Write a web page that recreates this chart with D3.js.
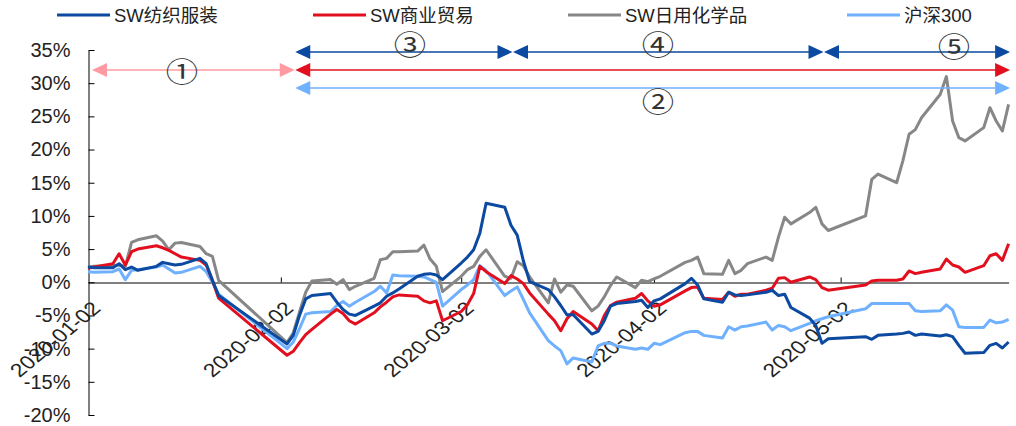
<!DOCTYPE html>
<html>
<head>
<meta charset="utf-8">
<script src="https://cdn.jsdelivr.net/npm/d3@7"></script>
<style>
body { margin: 0; background: #fff; }
svg text { font-family: "Liberation Sans", Arial, "Noto Sans CJK SC", sans-serif; fill: #222; }
</style>
</head>
<body>
<div id="chart"></div>
<script>
// trading days 2020 (MM-DD)
const days = [
  "01-02","01-03","01-06","01-07","01-08","01-09","01-10","01-13","01-14","01-15","01-16","01-17","01-20","01-21","01-22","01-23",
  "02-03","02-04","02-05","02-06","02-07","02-10","02-11","02-12","02-13","02-14","02-17","02-18","02-19","02-20","02-21","02-24","02-25","02-26","02-27","02-28",
  "03-02","03-03","03-04","03-05","03-06","03-09","03-10","03-11","03-12","03-13","03-16","03-17","03-18","03-19","03-20","03-23","03-24","03-25","03-26","03-27","03-30","03-31",
  "04-01","04-02","04-03","04-07","04-08","04-09","04-10","04-13","04-14","04-15","04-16","04-17","04-20","04-21","04-22","04-23","04-24","04-27","04-28","04-29","04-30",
  "05-06","05-07","05-08","05-11","05-12","05-13","05-14","05-15","05-18","05-19","05-20","05-21","05-22","05-25","05-26","05-27","05-28","05-29"
]

// cumulative return, %
const textile = [
  2.3, 2.2, 2.2, 2.8, 1.9, 2.3, 1.8, 2.4, 3.0, 2.8, 2.6, 2.7, 3.6, 2.8, 0.3, -2.0,
  -9.3, -8.0, -5.0, -2.5, -2.0, -1.7, -3.0, -4.1, -4.8, -5.0, -3.6, -3.1, -2.1, -1.6, -1.0, 0.9, 1.2, 1.3, 1.1, 0.4,
  2.9, 3.8, 4.9, 7.4, 11.9, 11.3, 8.6, 7.1, 3.2, 0.1, -1.1, -2.2, -3.5, -4.9, -4.9, -7.8, -7.4, -5.8, -3.6, -3.2, -2.9, -2.7,
  -3.8, -2.8, -2.5, -0.2, 0.6, -0.4, -2.5, -3.0, -1.5, -1.9, -2.0, -1.9, -1.5, -1.2, -2.0, -1.8, -3.8, -5.4, -6.5, -9.2, -8.5,
  -8.2, -8.6, -8.0, -7.8, -7.7, -7.5, -8.0, -7.8, -8.1, -7.9, -8.2, -9.5, -10.7, -10.6, -9.5, -9.2, -9.9, -9.0
]
const commerce = [
  2.1, 2.3, 2.8, 4.3, 2.6, 4.6, 5.0, 5.5, 5.2, 4.8, 4.3, 3.8, 3.3, 2.6, 0.3, -2.4,
  -11.0, -10.4, -9.1, -7.9, -7.1, -4.8, -4.1, -4.7, -5.8, -6.3, -4.6, -3.7, -3.0, -2.2, -1.9, -2.1, -2.8, -3.1, -2.8, -5.8,
  -4.4, -3.4, -1.7, 2.4, 1.6, -0.2, 1.0, 0.5, -0.2, -1.6, -4.8, -5.8, -7.3, -5.5, -4.4, -6.3, -7.3, -5.0, -3.5, -3.0, -2.4, -1.7,
  -2.8, -3.6, -3.4, -1.3, -0.8, -0.7, -2.4, -2.6, -1.5, -2.1, -1.8, -1.8, -1.2, -0.9, 0.6, 0.7, 0.0, 0.8, 0.4, -0.8, -1.2,
  -0.4, 0.2, 0.3, 0.3, 0.5, 1.7, 1.3, 1.5, 2.0, 3.5, 2.6, 2.3, 1.5, 2.5, 4.0, 4.3, 3.3, 5.8
]
const chemicals = [
  2.3, 2.4, 2.5, 2.6, 2.4, 6.0, 6.4, 7.0, 6.2, 4.9, 5.9, 6.0, 5.4, 4.3, 3.9, 0.3,
  -9.1, -7.6, -4.5, -1.5, 0.2, 0.4, -0.3, 0.4, -1.1, -0.6, 0.6, 3.4, 3.6, 4.6, 4.6, 4.7, 5.6, 3.5, 2.4, -1.4,
  0.9, 1.9, 2.4, 3.9, 4.9, 0.9, 0.6, 3.1, 2.5, 0.8, -3.1, 0.5, -1.5, -0.4, -0.6, -4.3, -3.6, -2.2, -0.5, 0.8, -0.8, 0.3,
  0.1, 0.5, 0.9, 3.0, 3.3, 3.8, 1.3, 1.2, 3.3, 1.3, 1.8, 2.8, 3.8, 3.3, 6.8, 9.8, 8.8, 10.5, 11.3, 8.8, 7.8,
  10.0, 15.5, 16.3, 15.0, 18.3, 22.3, 23.0, 24.8, 28.3, 31.0, 24.3, 21.8, 21.3, 23.3, 26.3, 24.3, 22.8, 26.8
]
const hs300 = [
  1.6, 1.5, 1.6, 2.0, 0.4, 1.8, 1.9, 2.3, 2.6, 2.0, 1.4, 1.5, 2.4, 1.6, 0.0, -1.8,
  -10.0, -9.0, -7.0, -4.8, -4.6, -4.4, -3.5, -2.9, -3.6, -3.0, -1.4, -0.6, -1.6, 1.1, 1.0, 0.9, 0.8, 0.4, 0.0, -3.6,
  -1.1, -0.4, 0.4, 2.5, 1.8, -2.0, -1.3, -0.7, -2.6, -4.6, -8.8, -9.6, -10.3, -12.3, -11.4, -12.0, -9.6, -9.2, -9.2, -9.6, -10.1, -9.9,
  -10.1, -9.2, -9.4, -7.6, -7.4, -7.4, -8.0, -8.4, -6.7, -7.2, -6.7, -6.6, -6.0, -7.2, -6.5, -6.7, -7.3, -6.2, -5.8, -5.5, -5.2,
  -4.0, -3.2, -3.2, -3.2, -3.2, -3.2, -4.3, -4.4, -4.3, -3.4, -4.2, -6.7, -6.8, -6.8, -5.7, -6.1, -6.0, -5.6
]

const seriesNames = ["SW纺织服装", "SW商业贸易", "SW日用化学品", "沪深300"]
const seriesColors = ["#0b4aa0", "#e2101f", "#878787", "#6fb0ff"]
const yTicks = [-20, -15, -10, -5, 0, 5, 10, 15, 20, 25, 30, 35]
const xTickLabels = ["2020-01-02", "2020-02-02", "2020-03-02", "2020-04-02", "2020-05-02"]

// period annotations: [from, to, row, colour, label]
const periods = [
  ["01-02", "02-04", 1, "#ff9aa3", "①"],
  ["02-04", "05-29", 2, "#6fb0ff", "②"],
  ["02-04", "03-10", 0, "#0b4aa0", "③"],
  ["03-10", "04-29", 0, "#0b4aa0", "④"],
  ["04-29", "05-29", 0, "#0b4aa0", "⑤"]
]
const redPeriod = ["02-04", "05-29"]

const width = 1016
const height = 426
const parse = d3.timeParse("%Y-%m-%d")
const dates = days.map(d => parse("2020-" + d))

const x = d3.scaleTime()
  .domain([dates[0], dates[dates.length - 1]])
  .range([88, 1008.6])
const y = d3.scaleLinear()
  .domain([-20, 35])
  .range([415, 50])

const svg = d3.select("#chart").append("svg")
  .attr("width", width)
  .attr("height", height)

// y axis, ticks pointing inward
const yAxis = svg.append("g")
  .attr("transform", "translate(88.5,0)")
  .call(d3.axisLeft(y).tickValues(yTicks).tickSize(-6).tickSizeOuter(0).tickPadding(18).tickFormat(d => d + "%"))
yAxis.select(".domain").attr("stroke", "#000")
yAxis.selectAll(".tick line").attr("stroke", "#000")
yAxis.selectAll(".tick text")
  .style("font-size", "20px")
  .attr("fill", "#222")

// zero line with month ticks
const y0 = Math.round(y(0)) + 0.5
const xAxis = svg.append("g")
  .attr("transform", `translate(0,${y0})`)
  .call(d3.axisBottom(x).tickValues(xTickLabels.map(parse)).tickSize(-5).tickSizeOuter(0).tickFormat(""))
xAxis.select(".domain").attr("stroke", "#000")
xAxis.selectAll(".tick line").attr("stroke", "#000")
xAxis.selectAll(".tick").filter((d, i) => i === 0).select("line").remove()

// rotated date labels (slightly stretched like the source)
svg.append("g").selectAll("text")
  .data(xTickLabels)
  .join("text")
  .attr("transform", d => `translate(${x(parse(d)) + 14},${y0 + 27}) scale(1.2,1) rotate(-45)`)
  .attr("text-anchor", "end")
  .style("font-size", "19px")
  .text(d => d)

// series lines
const allSeries = [textile, commerce, chemicals, hs300]
const line = d3.line()
  .x((d, i) => x(dates[i]))
  .y(d => y(d))

const order = [3, 2, 1, 0]
svg.append("g").selectAll("path")
  .data(order)
  .join("path")
  .attr("fill", "none")
  .attr("stroke", i => seriesColors[i])
  .attr("stroke-width", 3)
  .attr("stroke-linejoin", "round")
  .attr("d", i => line(allSeries[i]))

// legend
const legendX = [57, 313, 568, 847]
const legend = svg.append("g").selectAll("g")
  .data(seriesNames)
  .join("g")
  .attr("transform", (d, i) => `translate(${legendX[i]},15)`)
legend.append("line")
  .attr("x1", 0).attr("x2", 53)
  .attr("stroke", (d, i) => seriesColors[i])
  .attr("stroke-width", 3)
legend.append("text")
  .attr("x", 57)
  .attr("y", 6.5)
  .style("font-size", "18.5px")
  .text(d => d)

// period arrows
const rowY = [52, 70, 88]
const ann = svg.append("g")

function arrow(x1, x2, yy, color) {
  ann.append("line")
    .attr("x1", x1 + 10).attr("x2", x2 - 10)
    .attr("y1", yy).attr("y2", yy)
    .attr("stroke", color).attr("stroke-width", 1.5)
  ann.append("path")
    .attr("d", `M${x1},${yy}L${x1 + 15},${yy - 7}L${x1 + 15},${yy + 7}Z`)
    .attr("fill", color)
  ann.append("path")
    .attr("d", `M${x2},${yy}L${x2 - 15},${yy - 7}L${x2 - 15},${yy + 7}Z`)
    .attr("fill", color)
}

const dx = d => x(parse("2020-" + d))
arrow(dx(redPeriod[0]) + 2, dx(redPeriod[1]) + 1.5, rowY[1], "#e2101f")
periods.forEach(([a, b, row, color]) => {
  const x1 = a === "01-02" ? dx(a) + 4 : dx(a) + 2
  arrow(x1, dx(b) + 1.5, rowY[row], color)
})

const labelPos = [[182, 70], [658, 100], [410, 43], [658, 43], [954, 45]]
ann.selectAll("text.num")
  .data(periods)
  .join("text")
  .attr("class", "num")
  .attr("transform", (d, i) => `translate(${labelPos[i][0]},${labelPos[i][1]}) scale(1.2,1)`)
  .attr("text-anchor", "middle")
  .attr("dominant-baseline", "central")
  .style("font-family", "'Noto Sans CJK SC', sans-serif")
  .style("font-size", "27px")
  .style("fill", "#333")
  .text(d => d[4])
</script>
</body>
</html>
